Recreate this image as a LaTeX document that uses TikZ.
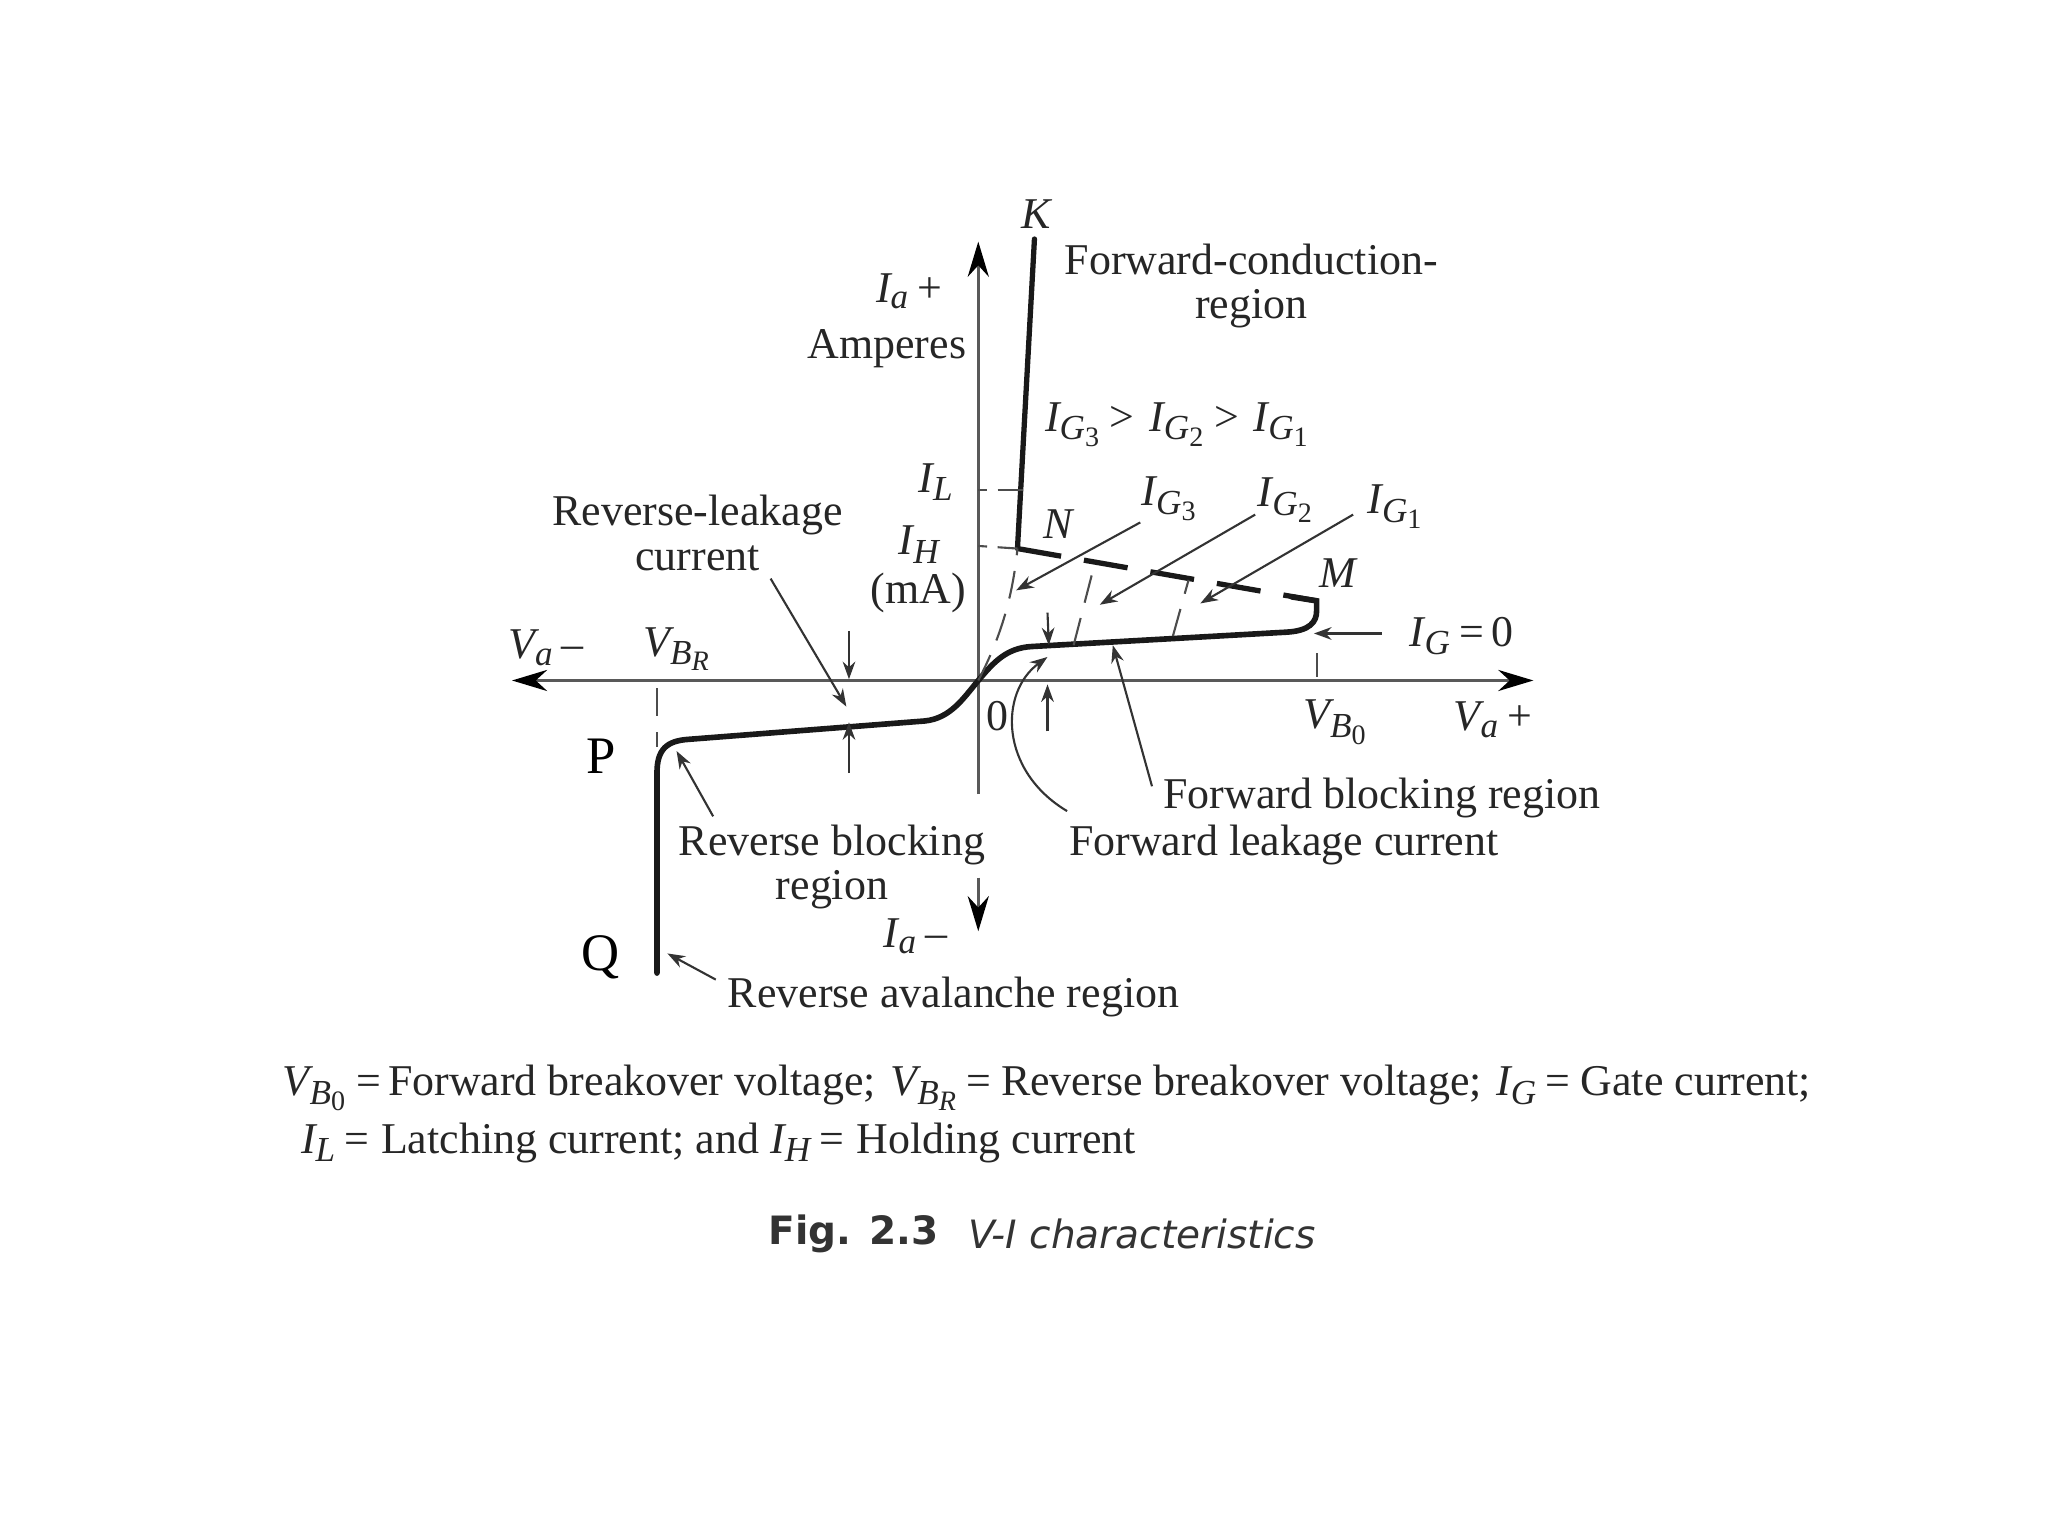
\documentclass[tikz,border=0pt]{standalone}
\usepackage{fontspec}
\usetikzlibrary{arrows.meta}
\setmainfont{Liberation Serif}
\newfontfamily\capfont{DejaVu Sans}
\DeclareMathSizes{12.5}{12.5}{10}{8}
\newcommand{\cur}[1]{\mathit{I}_{\mathit{#1}}}
\newcommand{\volt}[1]{\mathit{V}_{\mathit{#1}}}
\begin{document}
\begin{tikzpicture}[
    x=0.013061cm, y=-0.013061cm,
    lab/.style={font=\fontsize{12.5}{12.6}\selectfont, text=black!85, inner sep=0pt, align=center},
    bigletter/.style={font=\fontsize{15}{17}\selectfont, inner sep=0pt},
    legend/.style={font=\fontsize{12.5}{15}\selectfont, text=black!85, inner sep=0pt, anchor=west},
    capt/.style={font=\fontsize{11.1}{14}\capfont, text=black!80, inner sep=0pt, anchor=west},
    axis/.style={black!65, line width=0.9pt},
    axistip/.style={>={Stealth[length=10pt,width=6pt,black]}},
    curve/.style={black!90, line width=1.6pt, line cap=round},
    arrow/.style={->, >={Stealth[length=5pt,width=3.6pt]}, black!80, line width=0.6pt},
    thin dash/.style={black!70, line width=0.6pt, dash pattern=on 8pt off 4.5pt},
    tick dash/.style={black!70, line width=0.6pt, dash pattern=on 2.5pt off 3pt on 10pt off 3pt},
    hold/.style={black!90, line width=1.5pt, dash pattern=on 12.6pt off 6.6pt}
]
    \useasboundingbox (0,0) rectangle (1568,1176);

    % Curve points
    \coordinate (o) at (749,521);
    \coordinate (q) at (503,745);
    \coordinate (p) at (503,592);
    \coordinate (kk) at (792,183);
    \coordinate (n) at (779,420);
    \coordinate (m) at (1008,460);

    % Axes
    \coordinate (vleft) at (392,521);
    \coordinate (vright) at (1174,521);
    \coordinate (itop) at (749,185);
    \coordinate (ibot) at (749,608);
    \coordinate (ilow1) at (749,672);
    \coordinate (ilow2) at (749,713);
    \draw[axis, axistip, <->] (vleft) -- (vright);
    \draw[axis, axistip, ->] (ibot) -- (itop);
    \draw[axis, axistip, ->] (ilow1) -- (ilow2);

    % Characteristic
    \draw[curve] (q) -- (p) .. controls (503,574) and (510,567) .. (528,566)
        -- (708,552) .. controls (728,550) and (738,534) .. (o)
        .. controls (760,508) and (770,496) .. (790,495)
        -- (985,484) .. controls (1003,483) and (1008,476) .. (1008,468) -- (m) -- (989,457);
    \draw[curve, line width=1.5pt] (kk) -- (n);
    \draw[hold] (n) -- (m);

    % Dashed guides
    \draw[tick dash] (749,375) -- (783,375);
    \draw[tick dash] (749,418) -- (n);
    \draw[thin dash] (o) .. controls (765,490) and (775,460) .. (n);
    \draw[thin dash] (822,494) -- (838,432);
    \draw[thin dash] (898,487) -- (910,444);
    \draw[thin dash] (1008,500) -- (1008,518);
    \draw[thin dash] (503,527) -- (503,572);

    % Labels on the axes
    \node[lab] (k) at (793,164) {$\mathit{K}$};
    \node[lab] (iplus) at (696,223) {$\mathit{I}_{\mathit{a}}$\,+};
    \node[lab] (amps) at (679,267) {Amperes};
    \node[lab] (il) at (717,369) {$\cur{L}$};
    \node[lab] (ih) at (704,417) {$\cur{H}$};
    \node[lab] (ma) at (703,454) {(mA)};
    \node[lab] (iminus) at (701,717) {$\mathit{I}_{\mathit{a}}$\,--};
    \node[lab] (vminus) at (418,496) {$\mathit{V}_{\mathit{a}}$\,--};
    \node[lab] (vplus) at (1143,551) {$\mathit{V}_{\mathit{a}}$\,+};
    \node[lab] (vbr) at (519,497) {$\volt{B_{\mathit{R}}}$};
    \node[lab] (vbo) at (1023,553) {$\volt{B_{\mathrm{0}}}$};
    \node[lab] (zero) at (764,548) {0};
    \node[bigletter] (pp) at (460,579) {P};
    \node[bigletter] (qq) at (460,733) {Q};

    % Labels of the regions
    \node[lab] (fcr) at (958,219) {Forward-conduction-\\region};
    \node[lab] (order) at (902,325) {$\cur{G_{\mathrm{3}}}$\,>\,\,$\cur{G_{\mathrm{2}}}$\,>\,\,$\cur{G_{\mathrm{1}}}$};
    \node[lab] (nn) at (810,401) {$\mathit{N}$};
    \node[lab] (mm) at (1024,439) {$\mathit{M}$};
    \node[lab] (ig3) at (896,382) {$\cur{G_{\mathrm{3}}}$};
    \node[lab] (ig2) at (985,383) {$\cur{G_{\mathrm{2}}}$};
    \node[lab] (ig1) at (1069,388) {$\cur{G_{\mathrm{1}}}$};
    \node[lab] (ig0) at (1119,487) {$\cur{G}$\,=\,0};
    \node[lab] (rlc) at (534,408) {Reverse-leakage\\current};
    \node[lab] (rbr) at (637,664) {Reverse blocking\\region};
    \node[lab] (fbr) at (1058,611) {Forward blocking region};
    \node[lab] (flc) at (983,647) {Forward leakage current};
    \node[lab] (rar) at (730,763) {Reverse avalanche region};

    % Pointers
    \coordinate (t3a) at (873,400);
    \coordinate (t3b) at (778,452);
    \coordinate (t2a) at (961,394);
    \coordinate (t2b) at (842,463);
    \coordinate (t1a) at (1036,394);
    \coordinate (t1b) at (919,462);
    \coordinate (t0a) at (1058,485);
    \coordinate (t0b) at (1006,485);
    \draw[arrow] (t3a) -- (t3b);
    \draw[arrow] (t2a) -- (t2b);
    \draw[arrow] (t1a) -- (t1b);
    \draw[arrow] (t0a) -- (t0b);
    \coordinate (fl1) at (802,469);
    \coordinate (fl2) at (803,494);
    \coordinate (fl3) at (802,560);
    \coordinate (fl4) at (802,524);
    \draw[arrow] (fl1) -- (fl2);
    \draw[arrow] (fl3) -- (fl4);
    \coordinate (fla) at (817,621);
    \coordinate (flb) at (802,503);
    \draw[arrow] (fla) .. controls (765,590) and (765,530) .. (flb);
    \coordinate (fba) at (882,602);
    \coordinate (fbb) at (852,494);
    \draw[arrow] (fba) -- (fbb);
    \coordinate (rla) at (590,443);
    \coordinate (rlb) at (648,541);
    \draw[arrow] (rla) -- (rlb);
    \coordinate (rl1) at (650,483);
    \coordinate (rl2) at (650,520);
    \coordinate (rl3) at (650,592);
    \coordinate (rl4) at (650,553);
    \draw[arrow] (rl1) -- (rl2);
    \draw[arrow] (rl3) -- (rl4);
    \coordinate (rba) at (546,625);
    \coordinate (rbb) at (518,575);
    \draw[arrow] (rba) -- (rbb);
    \coordinate (raa) at (548,750);
    \coordinate (rab) at (511,730);
    \draw[arrow] (raa) -- (rab);

    % Legend and caption
    \node[legend] (leg1) at (216,833) {$\volt{B_{\mathrm{0}}}$\,=\,Forward breakover voltage;\hspace{1pt} $\volt{B_{\mathit{R}}}$\,=\hspace{2.7pt}Reverse breakover voltage;\hspace{1pt} $\cur{G}$\,=\hspace{3pt}Gate current;};
    \node[legend] (leg2) at (230,875) {$\cur{L}$\,=\hspace{3.4pt}Latching current; and $\cur{H}$\,=\hspace{3.6pt}Holding current};
    \node[capt] (fig) at (588,945) {\bfseries Fig. 2.3};
    \node[capt] (figname) at (741,945) {\itshape V-I characteristics};
\end{tikzpicture}
\end{document}
